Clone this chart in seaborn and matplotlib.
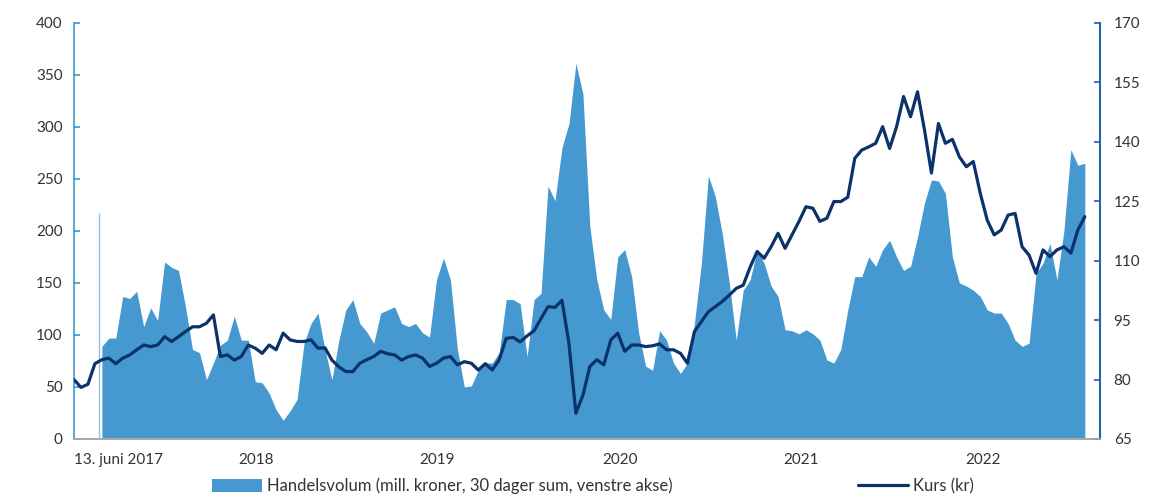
import numpy as np
import pandas as pd
import matplotlib.pyplot as plt
import seaborn as sns
from matplotlib.patches import Patch
from matplotlib.lines import Line2D

# Values, one every 14 days from 13 June 2017
start_date = "2017-06-13"
step_days = 14
volume = [np.nan, np.nan, np.nan, np.nan,
          89, 97, 97, 137, 135, 142, 108, 126, 114, 170, 165, 162, 127, 86, 83, 57, 73, 90, 95, 118, 95, 95,
          55, 54, 44, 28, 18, 27, 38, 92, 111, 121, 86, 57, 95, 124, 134, 111, 103, 92, 121, 124, 127, 111, 108,
          111, 102, 98, 153, 174, 153, 86, 50, 51, 66, 73, 73, 83, 134, 134, 130, 79, 134, 140, 243, 229, 280, 303, 361, 332,
          204, 153, 124, 115, 175, 182, 156, 102, 70, 66, 104, 95, 73, 63, 73, 111, 169, 253, 233, 197, 150, 95, 143, 153,
          182, 169, 147, 137, 105, 104, 101, 105, 101, 95, 76, 73, 86, 124, 156, 156, 175, 166, 182, 191, 175, 162, 166, 194,
          227, 249, 248, 236, 175, 150, 147, 143, 137, 124, 121, 121, 111, 95, 89, 92, 159, 169, 188, 153, 200, 278, 263, 265]
price = [80, 78, 78.8, 84, 85, 85.4, 84, 85.4, 86.2, 87.5, 88.7, 88.3, 88.7, 90.8, 89.6, 90.8, 92.1, 93.3, 93.3, 94.2, 96.3,
         85.8, 86.2, 84.9, 85.8,
         88.7, 87.9, 86.6, 88.7, 87.5, 91.7, 90, 89.6, 89.6, 90, 87.9, 88, 84.9, 83.2, 82, 82, 84.1, 85, 85.8, 87.1, 86.5,
         86.2, 84.9, 85.8,
         86.2, 85.4, 83.3, 84.1, 85.4, 85.8, 83.7, 84.5, 84.1, 82.4, 84, 82.4, 85, 90.4, 90.6, 89.5, 91, 92.3, 95.4, 98.4,
         98.2, 100, 89.1, 71.5, 76,
         83.3, 85, 83.7, 90, 91.7, 87.1, 88.7, 88.7, 88.3, 88.5, 89, 87.5, 87.5, 86.6, 84.1, 92.1, 94.6, 97.1, 98.4, 99.7,
         101.3, 103, 103.8, 108.4,
         112.3, 110.6, 113.5, 116.9, 113.1, 116.5, 119.9, 123.6, 123.2, 119.9, 120.7, 124.9, 124.9, 126, 135.8, 137.9,
         138.7, 139.6, 143.8, 138.3, 143.8, 151.4, 146.3, 152.6,
         143, 132.1, 144.6, 139.6, 140.6, 136.2, 133.7, 135, 127, 120.2, 116.5, 117.7, 121.5, 121.9, 113.5, 111.4, 106.8,
         112.7, 111, 112.7, 113.5, 111.9, 117.7, 121.1]
# one-day spike at the first volume observation
spike_date = "2017-08-02"
spike_value = 217

tick_dates = ["2017-06-13", "2018-06-13", "2019-06-13", "2020-06-13", "2021-06-13", "2022-06-13"]
tick_labels = ["13. juni 2017", "2018", "2019", "2020", "2021", "2022"]
left_ticks = [0, 50, 100, 150, 200, 250, 300, 350, 400]
right_ticks = [65, 80, 95, 110, 125, 140, 155, 170]

vol_label = "Handelsvolum (mill. kroner, 30 dager sum, venstre akse)"
price_label = "Kurs (kr)"

fill_col = "#4599d0"
line_col = "#0b326b"
text_col = "#333333"

dates = pd.Timestamp(start_date) + pd.to_timedelta(np.arange(len(price)) * step_days, unit="D")
df = pd.DataFrame({"dato": dates, "volum": volume, "kurs": price})

sns.set_theme(style="white")
plt.rcParams["font.family"] = ["Lato", "DejaVu Sans"]

fig = plt.figure(figsize=(11.65, 4.96), dpi=100)
ax = fig.add_axes([0.0635, 0.115, 0.8805, 0.839])
ax2 = ax.twinx()

ax.fill_between(df["dato"], 0, df["volum"], color=fill_col, linewidth=0)
ax.vlines(pd.Timestamp(spike_date), 0, spike_value, color=fill_col, linewidth=1, alpha=0.6)
sns.lineplot(data=df, x="dato", y="kurs", ax=ax2, color=line_col, linewidth=2.3)

x0 = pd.Timestamp(start_date)
ax.set_xlim(x0, x0 + pd.Timedelta(days=2060))
ax.set_ylim(0, 400)
ax2.set_ylim(65, 170)
ax.set_yticks(left_ticks)
ax2.set_yticks(right_ticks)
ax.set_xticks(pd.to_datetime(tick_dates))
ax.set_xticklabels(tick_labels)
ax.get_xticklabels()[0].set_horizontalalignment("left")

for a in (ax, ax2):
    a.set_xlabel("")
    a.set_ylabel("")
    a.spines["top"].set_visible(False)
    a.spines["bottom"].set_color("#a8a8a8")

ax.spines["left"].set_color(fill_col)
ax.spines["right"].set_visible(False)
ax2.spines["left"].set_visible(False)
ax2.spines["right"].set_color("#2464ad")
ax2.spines["right"].set_linewidth(1.5)

ax.tick_params(axis="y", direction="in", length=4, color=fill_col, labelsize=11, labelcolor=text_col, pad=8)
ax2.tick_params(axis="y", direction="in", length=4, color="#2464ad", labelsize=11, labelcolor=text_col, pad=10)
ax.tick_params(axis="x", direction="inout", length=6, color="#a8a8a8", labelsize=11, labelcolor=text_col, pad=7)

handles = [Patch(facecolor=fill_col, edgecolor="none"),
           Line2D([0], [0], color=line_col, linewidth=2.3)]
fig.legend(handles, [vol_label, price_label], loc="center", bbox_to_anchor=(0.509, 0.02), ncol=2,
           frameon=False, fontsize=12, handlelength=3.0, handleheight=0.8, handletextpad=0.3,
           columnspacing=11.1, labelcolor=text_col)

fig.savefig("out.png", dpi=100)
